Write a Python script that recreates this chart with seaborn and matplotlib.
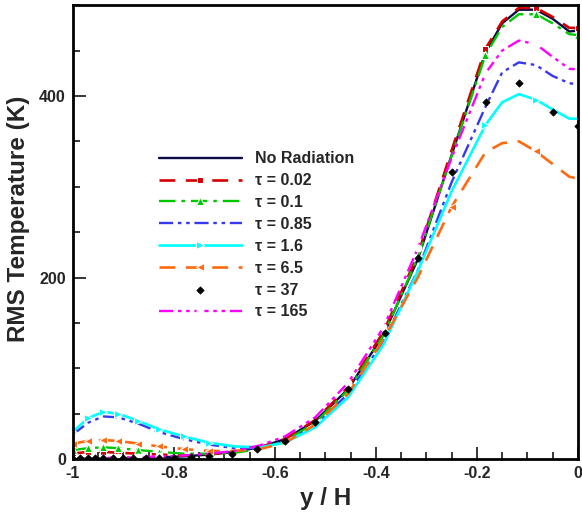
import pandas as pd
import seaborn as sns
import matplotlib.pyplot as plt
from matplotlib.ticker import MultipleLocator

# wall-normal positions shared by the line series
y_h = [-1.0, -0.97, -0.94, -0.91, -0.87, -0.83, -0.78, -0.73, -0.68, -0.63, -0.58,
       -0.52, -0.455, -0.385, -0.317, -0.25, -0.183, -0.15, -0.117, -0.083, -0.05, -0.017, 0.0]

no_rad = [0, 1, 1, 1, 1, 2, 3, 5, 8, 13, 22, 42, 77, 137, 220, 335, 448, 480, 495, 495, 485, 471, 472]
tau_002 = [6, 8, 8, 7, 6, 5, 4, 5, 8, 13, 22, 43, 79, 140, 225, 340, 452, 482, 497, 497, 487, 475, 475]
tau_01 = [10, 12, 13, 12, 10, 8, 6, 6, 7, 11, 20, 40, 76, 136, 222, 334, 445, 476, 490, 490, 480, 468, 467]
tau_085 = [27, 40, 47, 46, 39, 30, 22, 16, 12, 12, 19, 37, 72, 130, 208, 305, 388, 426, 437, 434, 422, 414, 413]
tau_16 = [30, 45, 52, 50, 42, 33, 25, 18, 14, 13, 18, 35, 68, 126, 207, 295, 368, 393, 402, 396, 385, 375, 375]
tau_65 = [17, 20, 21, 20, 17, 14, 11, 9, 9, 11, 18, 38, 72, 132, 200, 278, 338, 348, 350, 339, 325, 311, 309]
tau_165 = [0, 1, 1, 2, 2, 3, 4, 6, 9, 15, 25, 46, 84, 145, 232, 332, 425, 450, 461, 457, 443, 430, 429]

# tau = 37 is drawn as points only
y_h_37 = [-1.0, -0.985, -0.97, -0.955, -0.94, -0.92, -0.9, -0.88, -0.855, -0.83, -0.8, -0.765,
          -0.73, -0.685, -0.635, -0.58, -0.521, -0.455, -0.382, -0.317, -0.25, -0.182, -0.117, -0.05, 0.0]
tau_37 = [0, 1, 1, 1, 1, 1, 1, 1, 1, 1, 1, 2, 3, 6, 11, 20, 41, 77, 139, 221, 316, 393, 414, 382, 367]

x_ticks = [-1, -0.8, -0.6, -0.4, -0.2, 0]
y_ticks = [0, 200, 400]

sns.set_style('white')
plt.rcParams['font.family'] = ['Liberation Sans', 'DejaVu Sans']
plt.rcParams['font.weight'] = 'bold'
plt.rcParams['axes.unicode_minus'] = False

fig, ax = plt.subplots(figsize=(5.82, 5.17), dpi=100)
fig.subplots_adjust(left=0.125, right=0.993, bottom=0.112, top=0.99)

near_wall = [0, 1, 2, 3, 4, 5, 6, 7]
peak = [16, 19, 22]

series = [
    ('No Radiation', no_rad, dict(color='#0a0a45', linestyle='-', lw=1.7)),
    ('τ = 0.02', tau_002, dict(color='#d40000', linestyle=(0, (6, 4)), lw=1.9, marker='s',
                               ms=5, markevery=near_wall[:6] + peak)),
    ('τ = 0.1', tau_01, dict(color='#00c800', linestyle=(0, (7, 2.5, 1.5, 2.5)), lw=1.7, marker='^',
                             ms=6, markevery=near_wall[:6] + peak)),
    ('τ = 0.85', tau_085, dict(color='#3838f0', linestyle=(0, (6, 2, 1.5, 2, 1.5, 2)), lw=1.7)),
    ('τ = 1.6', tau_16, dict(color='#00ffff', linestyle='-', lw=1.9, marker='>', ms=6,
                             markevery=near_wall + [16, 19])),
    ('τ = 6.5', tau_65, dict(color='#ff6a10', linestyle=(0, (6, 4)), lw=1.9, marker='<', ms=6,
                             markevery=near_wall + [15, 19])),
]

for name, vals, kw in series:
    sns.lineplot(x=y_h, y=vals, ax=ax, label=name, sort=False, errorbar=None, **kw)

sns.scatterplot(x=y_h_37, y=tau_37, ax=ax, label='τ = 37', marker='D', s=14,
                color='black', edgecolor='black', linewidth=0.5, zorder=5)

sns.lineplot(x=y_h, y=tau_165, ax=ax, label='τ = 165', sort=False, errorbar=None,
             color='#ff00ff', linestyle=(0, (6, 2, 1.5, 2, 1.5, 2)), lw=1.7, marker='o', ms=5,
             mfc='white', markevery=[0, 1, 2, 3, 4, 5, 12, 13, 14, 16, 19, 22])

ax.set_xlim(-1, 0)
ax.set_ylim(0, 500)
ax.set_xticks(x_ticks)
ax.set_xticklabels([f'{v:g}' for v in x_ticks])
ax.set_yticks(y_ticks)
ax.xaxis.set_minor_locator(MultipleLocator(0.05))
ax.yaxis.set_minor_locator(MultipleLocator(50))
ax.tick_params(which='both', direction='in', width=1.3, labelsize=11.5, pad=5,
               bottom=True, left=True, top=False, right=False)
ax.tick_params(which='major', length=9)
ax.tick_params(which='minor', length=5)
for s in ax.spines.values():
    s.set_linewidth(2)
    s.set_color('black')

ax.set_xlabel('y / H', fontsize=17.5, fontweight='bold', labelpad=4)
ax.set_ylabel('RMS Temperature (K)', fontsize=17.5, fontweight='bold')
ax.yaxis.set_label_coords(-0.085, 0.53)

leg = ax.legend(loc='upper left', bbox_to_anchor=(0.17, 0.678), frameon=False, fontsize=11.5,
                handlelength=5.2, handletextpad=0.85, labelspacing=0.43, borderaxespad=0,
                borderpad=0, numpoints=1, scatterpoints=1)
for t in leg.get_texts():
    t.set_fontweight('bold')
# one marker in the middle of each legend line
for h in leg.legend_handles:
    if hasattr(h, 'set_markevery') and h.get_marker() not in (None, 'None', ''):
        h.set_markevery([1])

fig.savefig('out.png', dpi=100)
